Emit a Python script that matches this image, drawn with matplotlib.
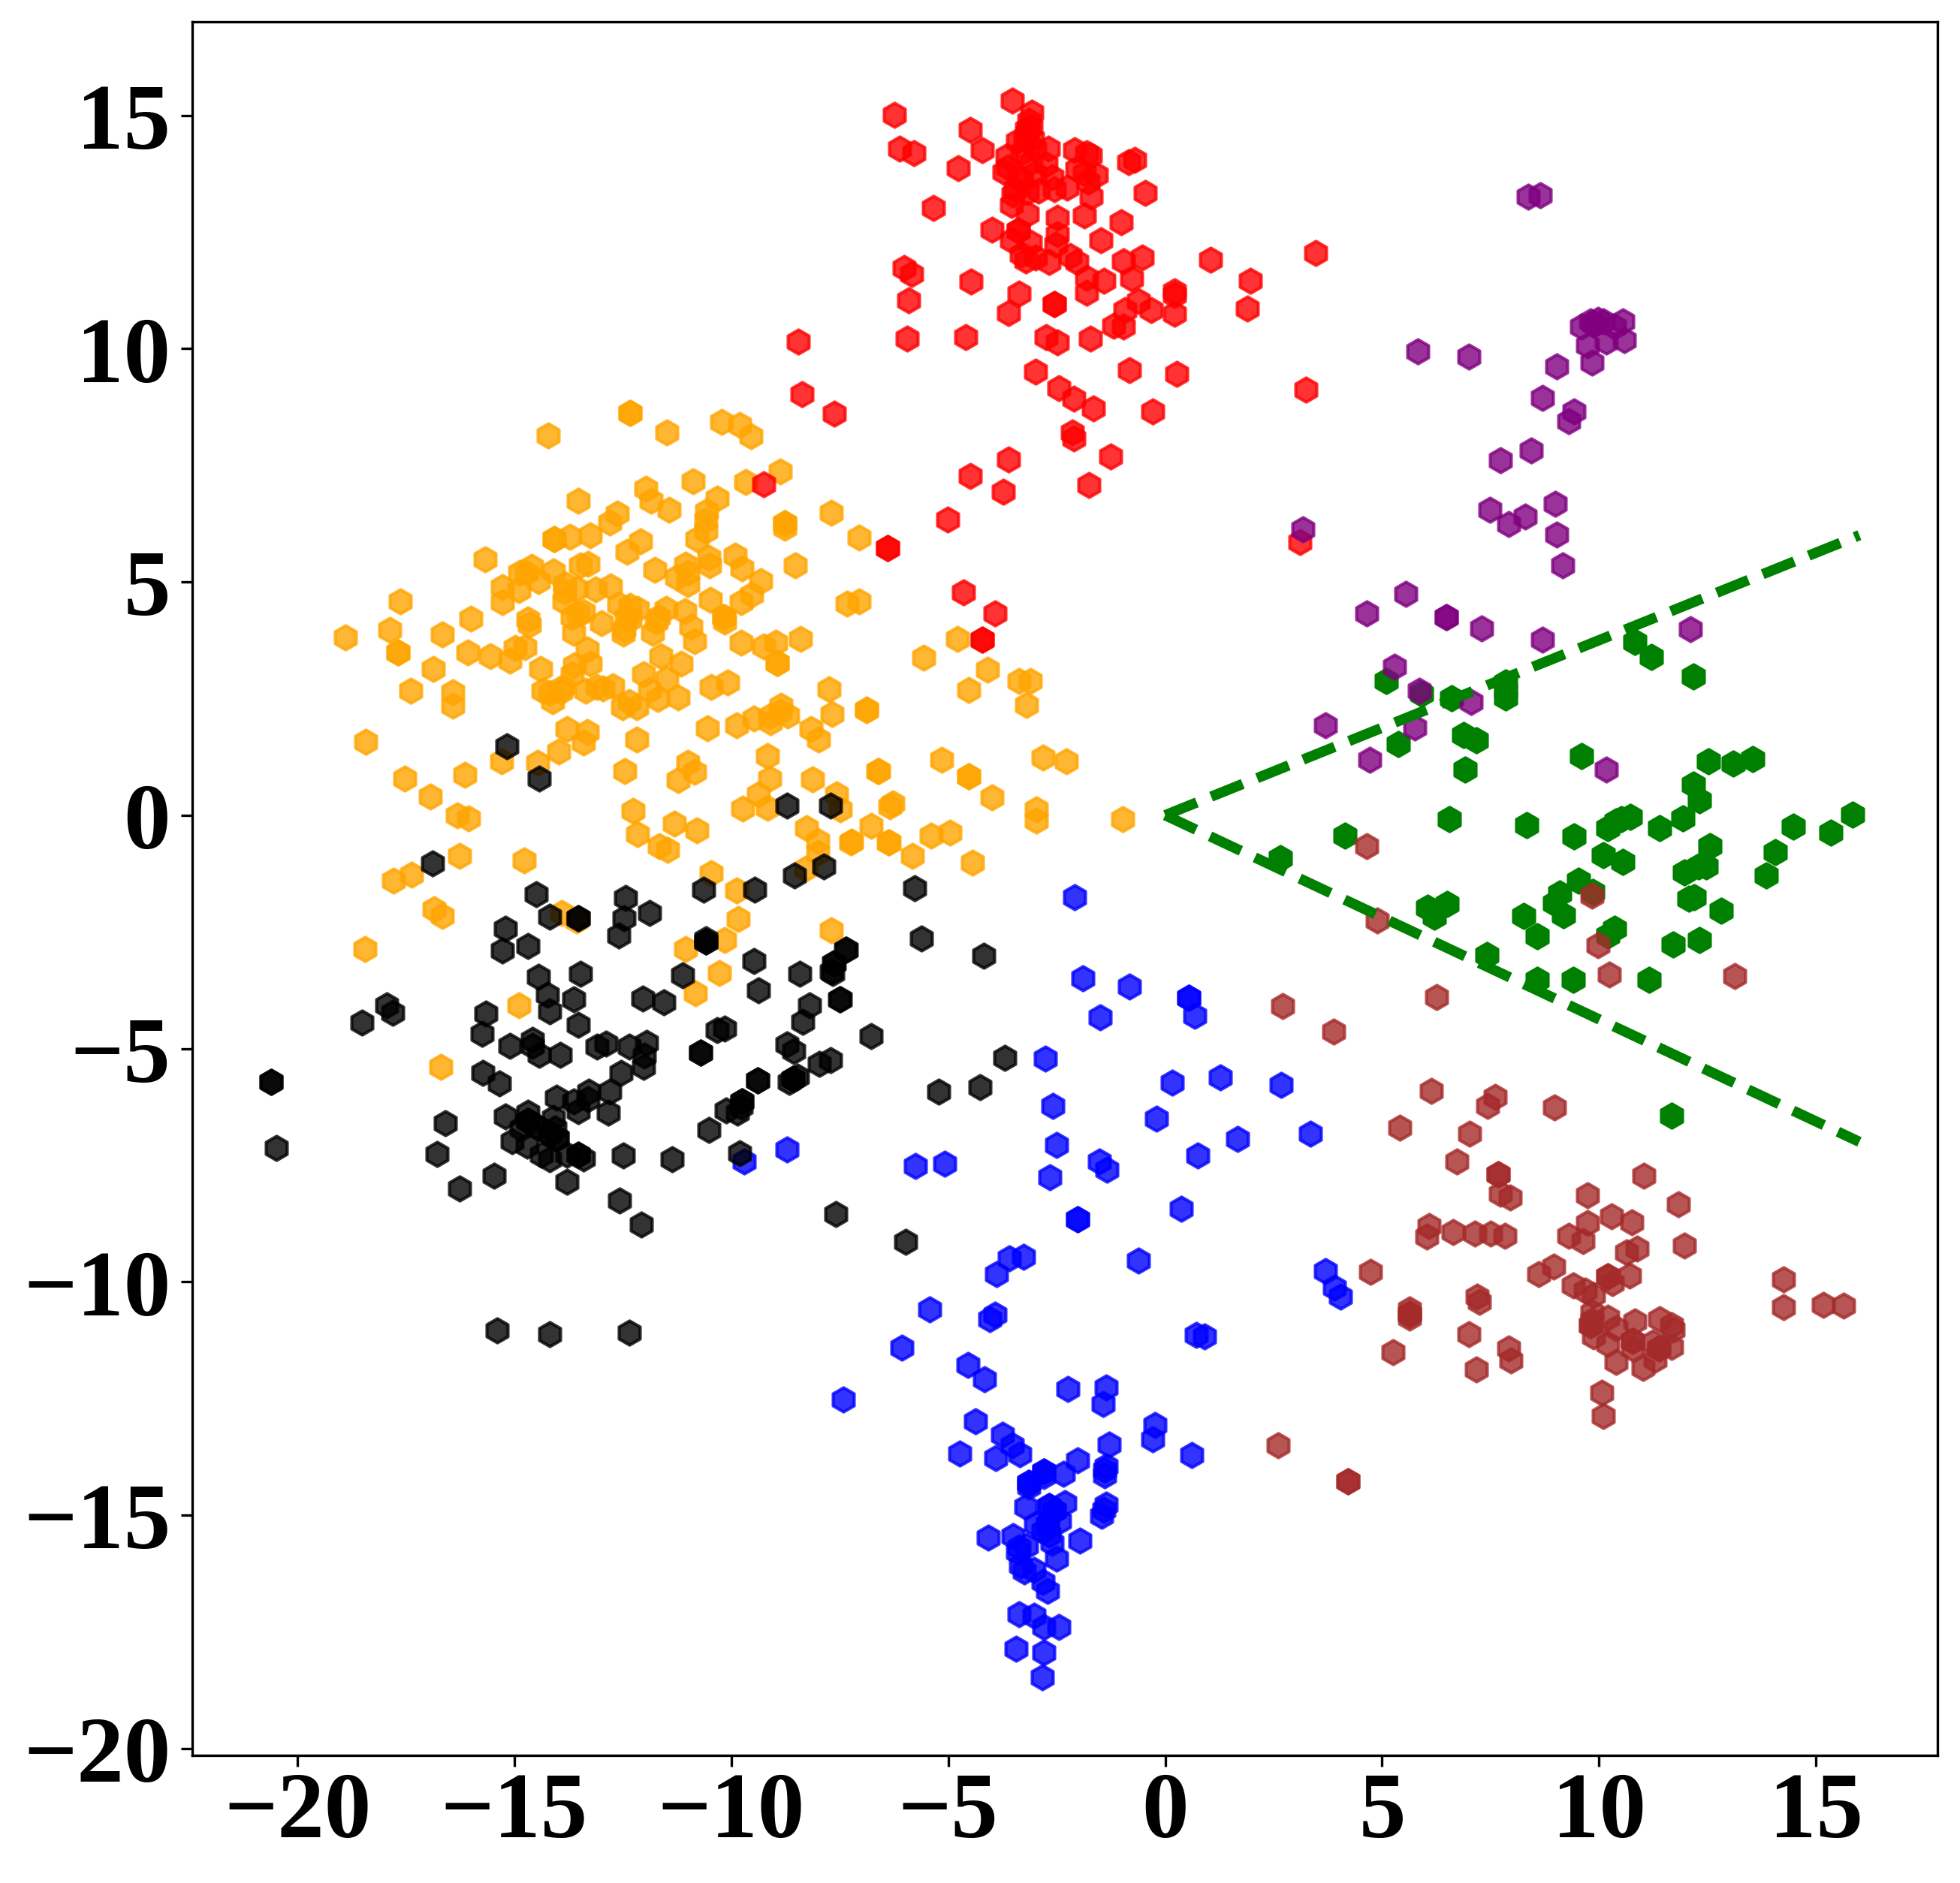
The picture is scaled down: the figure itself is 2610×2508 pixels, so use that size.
import matplotlib
matplotlib.use('Agg')
import matplotlib.pyplot as plt

plt.rcParams['font.family'] = ['Liberation Serif', 'DejaVu Serif']
plt.rcParams['font.weight'] = 'bold'

red_x = [-6.25, -4.50, -4.21, -3.52, -3.08, -6.12, -5.80, -4.77, -5.35, -3.14, -3.09, -3.18, -3.23, -3.01, -3.40, -2.70,
         -3.64, -3.62, -3.71, -3.36, -3.01, -2.61, -2.74, -3.45, -3.18, -2.92, -2.56, -2.26, -3.54, -3.18, -2.08, -1.81,
         -1.73, -2.03, -1.86, -1.59, -1.77, -1.70, -0.84, -0.71, -0.46, -1.86, -1.01, -2.49, -3.99, -3.39, -3.39, -2.49,
         -3.54, -3.11, -2.52, -1.49, -3.31, -3.21, -2.99, -2.67, -2.19, -2.03, -0.97, -0.53, 1.04, 3.46, -1.81, -1.42,
         -0.78, 1.97, -6.01, -5.85, -4.48, -5.92, -3.36, -1.81, 0.22, 0.22, 0.22, -0.62, -0.32, -0.92, 1.90, -3.61,
         -2.56, -2.56, -1.18, -0.96, -5.94, -4.59, -8.45, -2.75, -2.49, -1.73, -2.99, -0.82, 0.26, 3.24, -2.45, -2.11,
         -1.66, -0.28, -8.37, -7.63, -2.14, -2.10, -1.26, -3.61, -4.50, -3.74, -1.75, -5.02, -6.39, -6.39, -9.26, 3.10,
         -4.65, -3.93, -4.22, -4.22, -3.2, -3.05, -3.3, -3.1, -3.3, -3.5]
red_y = [15.01, 14.69, 14.25, 15.32, 15.05, 14.28, 14.18, 13.86, 13.02, 14.88, 14.75, 14.62, 14.48, 14.28, 14.45, 14.28,
         14.12, 13.88, 13.78, 13.68, 13.75, 13.68, 13.95, 13.42, 13.35, 13.38, 13.42, 13.45, 13.08, 12.88, 14.25, 14.18,
         14.14, 13.85, 13.75, 13.72, 13.58, 13.25, 14.00, 14.05, 13.34, 12.85, 12.70, 12.80, 12.55, 12.53, 12.53, 12.45,
         12.32, 12.28, 12.22, 12.32, 12.02, 11.88, 11.95, 11.86, 11.98, 11.85, 11.87, 11.95, 11.90, 12.04, 11.52, 11.46,
         11.50, 11.45, 11.72, 11.60, 11.44, 11.04, 11.18, 11.19, 11.22, 11.14, 10.74, 11.02, 10.83, 10.82, 10.86, 10.76,
         10.96, 10.96, 10.48, 10.47, 10.22, 10.25, 10.15, 10.24, 10.14, 10.21, 9.50, 9.53, 9.45, 9.12, 9.15, 8.93,
         8.72, 8.66, 9.03, 8.61, 8.21, 8.08, 7.69, 7.63, 7.27, 6.93, 7.08, 6.34, 5.73, 5.73, 7.09, 5.85,
         4.77, 4.33, 3.76, 3.76, 14.7, 14.5, 14.2, 14.0, 13.6, 13.3]

orange_x = [-12.34, -12.34, -14.22, -11.48, -10.23, -9.81, -9.55, -8.87, -9.67, -10.88, -11.97, -11.85, -11.44, -10.33,
            -13.52, -12.62, -12.80, -10.57, -10.59, -10.59, -10.79, -14.08, -14.08, -13.72, -13.25, -8.76, -8.76, -8.76,
            -7.69, -7.06, -12.10, -12.40, -8.52, -15.68, -10.51, -10.50, -9.91, -9.75, -11.06, -13.48, -13.31, -11.76,
            -14.61, -14.88, -14.72, -14.10, -11.26, -11.01, -11.01, -9.32, -14.44, -15.28, -14.90, -13.84, -13.84, -13.57,
            -13.13, -12.78, -9.53, -9.78, -10.48, -7.06, -7.33, -17.63, -15.28, -13.86, -12.60, -12.34, -12.16, -11.50,
            -11.07, -10.17, -10.17, -10.16, -13.53, -13.40, -13.66, -14.68, -14.66, -12.42, -12.34, -11.67, -11.72, -13.00,
            -10.94, -12.47, -12.49, -11.82, -13.64, -16.01, -17.88, -16.67, -18.90, -10.84, -9.77, -9.26, -8.98, -8.41,
            -17.69, -17.69, -16.07, -15.55, -14.98, -14.76, -15.10, -13.32, -11.63, -13.25, -11.15, -8.95, -8.95, -16.87,
            -14.40, -13.62, -13.66, -12.02, -11.48, -10.08, -10.46, -17.38, -16.42, -16.42, -12.73, -12.95, -13.09, -13.35,
            -13.88, -14.35, -14.19, -13.93, -14.12, -11.89, -11.69, -11.23, -12.51, -12.35, -12.18, -7.74, -8.85, -8.87,
            -8.70, -9.11, -9.09, -9.48, -9.88, -10.55, -7.67, -6.88, -8.16, -7.99, -13.78, -13.32, -13.40, -12.18, -18.42,
            -13.97, -14.47, -15.30, -9.16, -11.00, -10.84, -11.23, -12.45, -16.15, -17.52, -9.12, -8.13, -6.61, -16.93,
            -9.38, -9.73, -9.17, -7.57, -7.48, -6.27, -16.31, -16.06, -12.27, -11.32, -10.79, -12.16, -11.66, -11.47,
            -8.27, -6.77, -7.24, -6.38, -8.01, -8.01, -16.27, -14.78, -10.46,
            -5.15, -4.52, -4.52, -5.56, -4.78, -4.52, -4.09, -3.37, -3.11, -3.2, -2.82, -2.28, -4.0, -6.63, -6.89, -6.34,
            -6.37, -7.23, -5.82, -5.39, -4.96, -4.44, -2.97, -2.97, -0.98,
            -17.78, -17.37, -16.85, -16.67, -18.44, -13.91, -13.57, -9.88, -9.85, -10.15, -11.06, -10.27, -10.83, -7.70,
            -14.90, -16.69, -8.29]
orange_y = [8.62, 8.62, 8.14, 8.20, 8.42, 8.36, 8.12, 7.37, 7.14, 7.16, 7.00, 6.74, 6.54, 6.78,
            6.74, 6.47, 6.27, 6.52, 6.32, 6.09, 5.92, 5.92, 5.92, 5.96, 6.00, 6.26, 6.26, 6.16,
            6.48, 5.95, 5.87, 5.64, 5.36, 5.48, 5.52, 5.36, 5.57, 5.29, 5.37, 5.36, 5.38, 5.26,
            5.32, 5.19, 5.19, 5.22, 5.10, 5.19, 4.96, 5.01, 5.01, 4.89, 4.82, 4.96, 4.79, 4.85,
            4.84, 4.91, 4.72, 4.57, 4.61, 4.59, 4.53, 4.59, 4.57, 4.59, 4.52, 4.49, 4.42, 4.42,
            4.37, 4.25, 4.25, 4.15, 4.33, 4.35, 4.25, 4.20, 4.09, 4.25, 4.19, 4.25, 4.15, 4.11,
            4.04, 3.99, 3.89, 3.91, 3.90, 4.21, 3.97, 3.87, 3.81, 3.73, 3.70, 3.62, 3.69, 3.77,
            3.49, 3.49, 3.49, 3.41, 3.59, 3.60, 3.31, 3.55, 3.40, 3.24, 3.24, 3.27, 3.27, 3.13,
            3.14, 3.22, 3.02, 3.02, 2.93, 2.84, 2.75, 2.67, 2.64, 2.35, 2.77, 2.72, 2.75, 2.67,
            2.75, 2.67, 2.62, 2.65, 2.45, 2.69, 2.49, 2.52, 2.32, 2.42, 2.32, 2.70, 2.35, 2.22,
            2.13, 2.12, 1.99, 2.07, 1.92, 1.87, 2.17, 2.27, 1.85, 1.62, 1.84, 1.79, 1.55, 1.62, 1.57,
            1.37, 1.12, 1.15, 1.27, 1.13, 0.93, 0.75, 0.95, 0.87, 0.79, 0.79, 0.77, 0.95, 0.40,
            0.45, 0.14, 0.15, 0.45, 0.12, 0.25, -0.01, -0.06, 0.10, -0.18, -0.33, -0.40, -0.67, -0.75,
            -0.27, -0.23, -0.58, -0.58, -0.55, -0.81, -0.87, -0.97, -1.25,
            1.18, 0.83, 0.83, 3.37, 3.78, 2.68, 3.11, 2.87, 2.87, 2.36, 1.23, 1.15, 0.38, 0.94, 2.25, 0.19,
            -0.59, -0.56, -0.88, -0.43, -0.38, -1.02, 0.13, -0.11, -0.08,
            -1.41, -1.28, -2.01, -2.16, -2.87, -2.10, -2.25, -1.61, -2.23, -2.68, -2.87, -3.39, -3.81, -2.47,
            -4.08, -5.40, -1.15]

black_x = [-16.89, -14.49, -14.19, -13.52, -13.52, -12.43, -12.47, -11.89, -12.60, -15.21, -14.68, -15.27, -10.63, -9.46,
           -8.54, -7.86, -10.59, -10.59, -10.59, -9.48, -8.42, -7.70, -7.64, -7.37, -11.12, -9.37, -14.44, -13.48, -14.23,
           -13.64, -14.18, -13.52, -12.04, -11.55, -7.50, -8.19, -8.36, -6.77, -15.66, -15.74, -17.95, -17.81, -18.51,
           -10.32, -10.15, -15.10, -14.59, -14.59, -14.43, -13.95, -13.09, -12.88, -12.35, -11.95, -12.00, -12.03, -10.70,
           -10.70, -8.72, -8.56, -7.97, -7.72, -15.72, -15.34, -12.54, -12.80, -13.29, -13.64, -14.03, -13.52, -13.31,
           -12.83, -9.40, -9.40, -8.67, -8.58, -8.58, -8.47, -9.75, -9.75, -10.12, -9.86, -9.77, -10.51, -15.20, -14.68,
           -14.68, -14.68, -14.85, -14.46, -14.46, -14.10, -14.06, -14.19, -14.19, -14.01, -14.01, -15.05, -14.70, -14.37,
           -14.19, -13.78, -13.53, -13.53, -13.40, -12.49, -11.37, -9.80, -16.60, -16.78, -15.46, -16.26, -13.78, -12.57,
           -12.07, -7.59, -20.49, -20.6, -20.6, -15.39, -14.18, -12.36, -5.99, -5.78, -5.61, -4.18, -7.35, -7.62, -7.66,
           -7.49, -3.70, -5.22, -4.27, -8.72, -7.71, -15.18, -14.42]
black_y = [-1.03, -1.69, -2.18, -2.20, -2.20, -1.78, -2.20, -2.10, -2.58, -2.43, -2.81, -2.90, -1.60, -1.59,
           -1.29, -1.10, -2.71, -2.71, -2.66, -3.13, -3.40, -3.35, -3.18, -2.88, -3.43, -3.76, -3.47, -3.40, -3.85,
           -3.95, -4.21, -4.49, -3.93, -4.01, -3.95, -4.07, -4.43, -4.73, -4.25, -4.68, -4.08, -4.23, -4.45,
           -4.61, -4.57, -4.95, -4.81, -4.95, -5.13, -5.13, -4.96, -4.89, -4.96, -4.88, -5.15, -5.40, -5.09,
           -5.09, -4.91, -5.06, -5.33, -5.25, -5.53, -5.75, -5.53, -5.92, -5.93, -6.14, -6.05, -6.35, -6.08,
           -6.38, -5.68, -5.68, -5.71, -5.65, -5.65, -5.61, -6.14, -6.14, -6.32, -6.38, -6.25, -6.75, -6.45, -6.38,
           -6.55, -6.55, -6.72, -6.68, -6.68, -6.48, -6.72, -6.82, -6.82, -6.92, -6.92, -6.98, -7.08, -7.28,
           -7.38, -7.28, -7.28, -7.28, -7.36, -7.30, -7.37, -7.25, -6.60, -7.26, -7.72, -8.00, -7.86, -8.25,
           -8.78, -8.55, -7.13, -5.71, -5.71, -11.04, -11.12, -11.09, -9.14, -1.57, -2.65, -3.02, -2.88, -3.18, -3.38,
           -3.94, -5.20, -5.93, -5.82, 0.21, 0.21, 1.47, 0.79]

blue_x = [-2.09, -1.90, -0.83, 0.54, 0.54, 0.68, -1.50, -2.77, 0.16, 1.27, 2.67, -2.59, -0.20, 3.34, 1.67, 0.75,
          -2.51, -1.52, -1.35, -2.66, -5.75, -5.09, -2.02, -2.02, 0.37, -0.61, -3.60, -3.26, -3.88, -5.43, -4.05, -3.92,
          3.69, 3.91, 4.04, 0.72, 0.91, -6.07, -8.72, -9.71, -4.55, -4.17, -7.41, -2.24, -1.36, -1.43, -4.38, -0.23,
          -0.29, -3.75, -3.53, -3.35, -4.73, -3.91, -1.29, 0.61, -2.01, -2.34, -2.80, -2.80, -2.80, -3.14, -3.14, -3.14,
          -1.36, -1.39, -1.39, -3.21, -1.36, -1.47, -1.41, -2.31, -2.67, -2.67, -2.55, -2.55, -2.44, -2.98, -2.71, -2.71,
          -2.82, -2.67, -2.61, -1.97, -4.07, -3.50, -3.20, -3.37, -3.40, -3.33, -3.02, -3.25, -2.51, -2.81, -2.71, -3.37,
          -3.02, -2.79, -2.45, -3.44, -2.79, -2.83]
blue_y = [-1.75, -3.50, -3.67, -3.92, -3.92, -4.30, -4.33, -5.22, -5.73, -5.62, -5.78, -6.23, -6.50, -6.82, -6.94, -7.29,
          -7.07, -7.42, -7.60, -7.76, -7.52, -7.47, -8.66, -8.66, -8.44, -9.55, -9.50, -9.47, -9.83, -10.59, -10.80, -10.71,
          -9.77, -10.12, -10.32, -11.13, -11.17, -11.41, -7.17, -7.42, -11.78, -12.08, -12.52, -12.30, -12.26, -12.61, -12.99, -13.07,
          -13.37, -13.28, -13.51, -13.70, -13.68, -13.77, -13.48, -13.71, -13.83, -14.12, -14.07, -14.07, -14.17, -14.30, -14.30, -14.39,
          -13.95, -14.14, -14.04, -14.82, -14.77, -15.01, -14.88, -14.74, -14.80, -14.80, -14.90, -14.90, -15.12, -15.19, -15.19, -15.19,
          -15.34, -15.41, -15.60, -15.55, -15.48, -15.45, -15.66, -15.69, -15.79, -16.08, -16.17, -16.20, -15.94, -16.43, -16.63, -17.12,
          -17.16, -17.40, -17.40, -17.86, -17.95, -18.47]

brown_x = [6.13, 7.61, 7.43, 8.97, 5.41, 7.01, 6.72, 7.67, 7.67, 11.04, 7.72, 7.95, 9.73, 11.83, 10.28, 10.76, 9.73,
           6.09, 6.03, 6.63, 7.13, 7.50, 7.83, 9.30, 9.63, 11.96, 10.63, 10.88, 8.96, 8.61, 4.73, 10.70, 10.21, 10.21,
           10.30, 9.41, 9.69, 9.88, 7.19, 7.25, 5.63, 5.63, 5.63, 5.63, 9.83, 10.21, 9.83, 9.80, 9.80, 10.39, 10.82,
           11.40, 11.68, 11.71, 9.88, 7.00, 10.77, 10.77, 10.21, 10.77, 11.24, 11.68, 11.38, 11.38, 11.29, 10.39, 11.01,
           7.91, 7.97, 5.25, 7.17, 10.07, 10.09, 2.60, 4.21, 4.21, 14.25, 14.25, 15.17, 15.63,
           4.64, 9.84, 4.88, 9.98, 10.23, 13.13, 6.25, 2.71, 3.88]
brown_y = [-5.91, -6.03, -6.23, -6.26, -6.69, -6.83, -7.42, -7.69, -7.69, -7.72, -8.11, -8.19, -8.14, -8.33, -8.59, -8.72, -8.74,
           -8.80, -9.03, -8.93, -8.97, -8.97, -9.01, -9.01, -9.12, -9.23, -9.37, -9.29, -9.68, -9.83, -9.78, -9.86, -9.88, -9.88,
           -10.03, -10.07, -10.19, -10.28, -10.31, -10.43, -10.59, -10.68, -10.68, -10.77, -10.65, -10.77, -10.83, -10.93, -10.93, -10.99, -10.85,
           -10.80, -10.93, -11.02, -11.17, -11.12, -11.27, -11.27, -11.33, -11.42, -11.30, -11.40, -11.42, -11.42, -11.67, -11.71, -11.85,
           -11.42, -11.68, -11.50, -11.87, -12.38, -12.87, -13.50, -14.27, -14.27, -9.95, -10.54, -10.50, -10.51,
           -0.67, -1.73, -2.26, -2.78, -3.41, -3.44, -3.89, -4.09, -4.63]

purple_x = [9.02, 9.17, 5.54, 4.64, 6.48, 6.48, 7.29, 8.70, 12.11, 5.28, 5.86, 7.06, 3.69, 5.76, 4.72, 10.16, 3.18,
            7.49, 7.92, 8.30, 8.99, 8.36, 8.65, 5.82, 7.0, 9.02, 8.70, 9.42, 9.31, 8.44, 7.72,
            9.6, 9.8, 9.97, 10.09, 9.74, 9.83, 10.35, 10.17, 10.55, 10.58, 9.88, 9.88]
purple_y = [6.01, 5.35, 4.75, 4.32, 4.25, 4.25, 4.00, 3.76, 3.98, 3.18, 2.66, 2.42, 1.93, 1.88, 1.18, 0.98, 6.12,
            6.54, 6.24, 6.40, 6.67, 13.26, 13.29, 9.94, 9.83, 9.62, 8.95, 8.65, 8.44, 7.82, 7.61,
            10.47, 10.58, 10.61, 10.58, 10.07, 9.7, 10.47, 10.15, 10.58, 10.18, 10.53, 10.53]

green_x = [10.83, 11.20, 12.18, 5.09, 5.91, 6.61, 7.85, 7.85, 7.85, 6.88, 7.17, 5.37, 6.92, 9.60, 12.52, 13.10, 13.55,
           12.18, 12.31, 11.93, 15.84, 14.47, 15.35, 6.55, 8.34, 9.42, 10.21, 10.39, 10.52, 10.72, 11.39, 4.14, 10.10,
           10.55, 12.55, 12.47, 12.29, 11.96, 14.07, 13.85, 2.65, 9.53, 9.86, 9.09, 8.98, 9.18, 12.07, 12.20, 12.81,
           6.04, 6.49, 6.20, 8.27, 8.58, 10.35, 10.21, 11.70, 12.31, 7.41, 9.40, 8.58, 11.15, 11.68]
green_y = [3.71, 3.39, 2.97, 2.87, 2.60, 2.51, 2.85, 2.67, 2.53, 1.72, 1.61, 1.52, 0.98, 1.27, 1.16, 1.11, 1.20,
           0.66, 0.32, -0.06, 0.01, -0.24, -0.38, -0.09, -0.22, -0.45, -0.27, -0.13, -0.09, -0.04, -0.27, -0.44, -0.85,
           -1.00, -0.67, -1.10, -1.10, -1.23, -0.79, -1.29, -0.92, -1.41, -1.64, -1.67, -1.89, -2.14, -1.79, -1.76, -2.05,
           -1.99, -1.90, -2.17, -2.16, -2.59, -2.43, -2.57, -2.77, -2.68, -3.00, -3.52, -3.52, -3.52, -6.44]

line_x = [0, 16]
upper_y = [0, 6]
lower_y = [0, -7]

fig, ax = plt.subplots(figsize=(8.7, 8.363), dpi=300)

ax.scatter(green_x, green_y, s=60, marker='h', color='green')
ax.scatter(blue_x, blue_y, s=60, marker='h', color='blue', alpha=0.8)
ax.scatter(orange_x, orange_y, s=60, marker='h', color='orange', alpha=0.8)
ax.scatter(black_x, black_y, s=60, marker='h', color='black', alpha=0.8)
ax.scatter(red_x, red_y, s=60, marker='h', color='red', alpha=0.8)
ax.scatter(purple_x, purple_y, s=60, marker='h', color='purple', alpha=0.8)
ax.scatter(brown_x, brown_y, s=60, marker='h', color='brown', alpha=0.8)

ax.plot(line_x, upper_y, color='green', linestyle=(0, (3.3, 1.5)), linewidth=3.3)
ax.plot(line_x, lower_y, color='green', linestyle=(0, (3.3, 1.5)), linewidth=3.3)

ax.set_xlim(-22.42, 17.8)
ax.set_ylim(-20.15, 17.0)
ax.set_xticks([-20, -15, -10, -5, 0, 5, 10, 15])
ax.set_yticks([-20, -15, -10, -5, 0, 5, 10, 15])
ax.tick_params(labelsize=30)
ax.tick_params(axis='x', pad=1.5)

fig.subplots_adjust(left=0.0982, right=0.9885, top=0.988, bottom=0.0677)
plt.savefig('out.png', dpi=300)
